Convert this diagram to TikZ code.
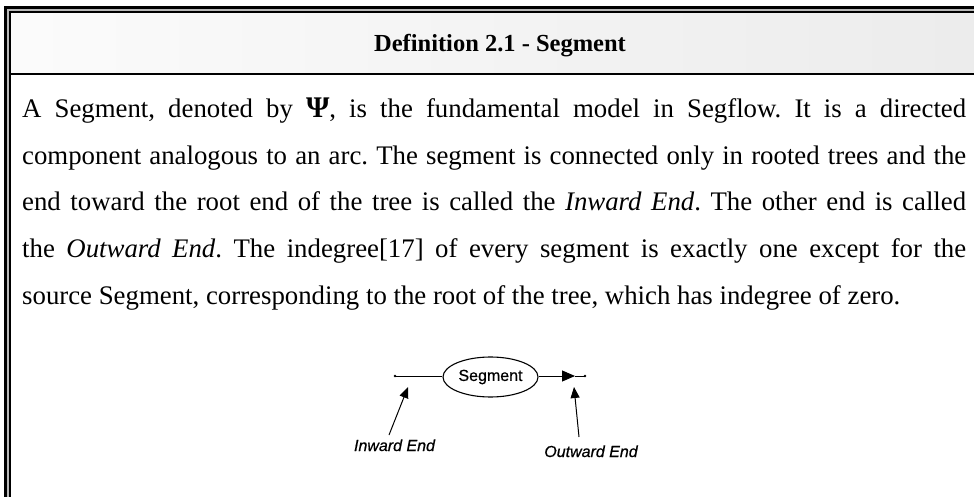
\documentclass[tikz,border=0pt]{standalone}
\usepackage{fontspec}
\setmainfont{Liberation Serif}
\newfontfamily\labelfont[FakeBold=0.6]{Liberation Sans}
\usetikzlibrary{arrows.meta,shapes.geometric}

\begin{document}
\begin{tikzpicture}[x=1pt,y=-1pt,
  bodyline/.style={anchor=base west, inner sep=0pt, font=\frenchspacing\fontsize{26.8}{30}\selectfont},
  endlabel/.style={anchor=base, inner sep=0pt, font=\labelfont\itshape\fontsize{16}{18}\selectfont},
  segbox/.style={ellipse, draw, line width=1.1pt, minimum width=95pt, minimum height=40pt,
                 inner sep=0pt, font=\labelfont\fontsize{16}{18}\selectfont},
  pointer/.style={line width=1pt, -{Triangle[length=11pt,width=9pt]}},
  wire/.style={line width=1pt}
]
\useasboundingbox (0,0) rectangle (974,497);
\fill[white] (0,0) rectangle (974,497);

% shaded title band
\shade[left color=gray!3, right color=gray!15] (10,12) rectangle (974,74);

% double frame on the top and left sides
\draw[gray!55, line width=2.4pt] (7.7,497) -- (7.7,9.6) -- (974,9.6);
\draw[line width=2.6pt] (5.3,497) -- (5.3,7.3) -- (974,7.3);
\draw[line width=2pt] (10,497) -- (10,11.8) -- (974,11.8);
% rule under the title band
\draw[line width=2.5pt] (10,74) -- (974,74);

% title
\node[anchor=base, inner sep=0pt, font=\bfseries\fontsize{24.5}{26}\selectfont] (title) at (500,52)
  {Definition 2.1 - Segment};

% definition text, justified line by line
\node[bodyline] (l1) at (22,118) {\makebox[944pt][s]{A Segment, denoted by {\fontsize{30}{30}\selectfont\bfseries Ψ}, is the fundamental model in Segflow. It is a directed}};
\node[bodyline] (l2) at (22,164.5) {\makebox[944pt][s]{component analogous to an arc. The segment is connected only in rooted trees and the}};
\node[bodyline] (l3) at (22,211) {\makebox[944pt][s]{end toward the root end of the tree is called the \textit{Inward End}. The other end is called}};
\node[bodyline] (l4) at (22,257.5) {\makebox[944pt][s]{the \textit{Outward End}. The indegree[17] of every segment is exactly one except for the}};
\node[bodyline] (l5) at (22,304) {source Segment, corresponding to the root of the tree, which has indegree of zero.};

% segment figure
\node[segbox] (seg) at (490.5,377) {Segment};
\coordinate (inend) at (395,376);
\coordinate (outtip) at (575,376);
\coordinate (outend) at (585,376);
\draw[wire] (inend) -- (seg.west |- inend);
\draw[wire, -{Triangle[length=13pt,width=11pt]}] (seg.east |- outtip) -- (outtip);
\draw[wire] (outtip) -- (outend);
\fill (inend) circle (1.4);
\fill (outend) circle (1.4);

% end labels with pointers
\node[endlabel] (inlbl) at (394.5,451) {Inward End};
\node[endlabel] (outlbl) at (591,457) {Outward End};
\coordinate (intail) at (389,435);
\coordinate (inhead) at (408,387);
\coordinate (outtail) at (579,437);
\coordinate (outhead) at (574,387);
\draw[pointer] (intail) -- (inhead);
\draw[pointer] (outtail) -- (outhead);
\end{tikzpicture}
\end{document}
